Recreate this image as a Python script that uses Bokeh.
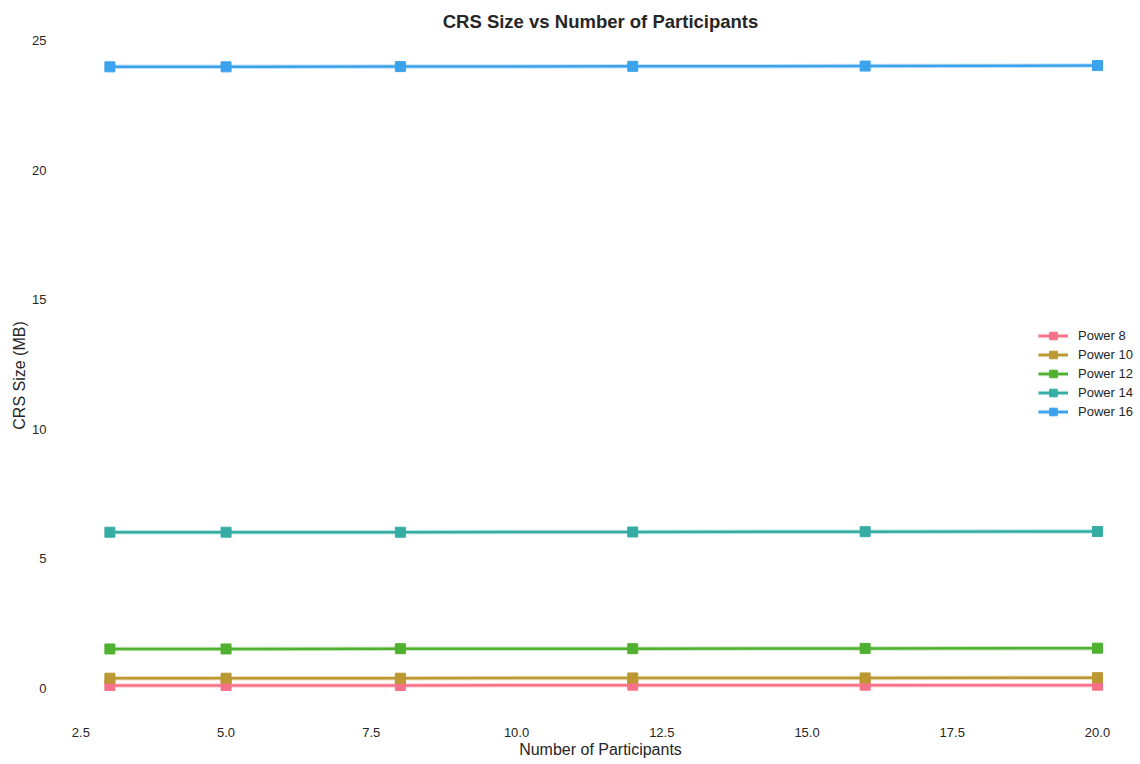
from bokeh.plotting import figure
from bokeh.models import Range1d, Legend, LegendItem, FixedTicker
from bokeh.embed import file_html
from bokeh.resources import INLINE

# Participants on the x axis
participants = [3, 5, 8, 12, 16, 20]

# CRS size (MB) per power setting
power_8 = [0.10, 0.10, 0.10, 0.11, 0.11, 0.11]
power_10 = [0.38, 0.38, 0.38, 0.39, 0.39, 0.40]
power_12 = [1.51, 1.51, 1.52, 1.52, 1.53, 1.54]
power_14 = [6.02, 6.02, 6.02, 6.03, 6.04, 6.05]
power_16 = [24.00, 24.00, 24.01, 24.02, 24.03, 24.05]

series_names = ["Power 8", "Power 10", "Power 12", "Power 14", "Power 16"]
series_values = [power_8, power_10, power_12, power_14, power_16]
colors = ["#f77189", "#bb9832", "#50b131", "#36ada4", "#3ba3ec"]

x_ticks = [2.5, 5.0, 7.5, 10.0, 12.5, 15.0, 17.5, 20.0]
y_ticks = [0, 5, 10, 15, 20, 25]

FONT = "Liberation Sans"
TEXT = "#262626"

p = figure(
    width=1140, height=764,
    output_backend="svg", toolbar_location=None,
    x_range=Range1d(2.15, 20.74), y_range=Range1d(-1.1, 25.25),
    min_border_left=60, min_border_right=0,
    min_border_top=34, min_border_bottom=48,
    title="CRS Size vs Number of Participants",
)
p.outline_line_color = None
p.background_fill_color = "white"
p.border_fill_color = "white"
p.xgrid.visible = False
p.ygrid.visible = False

p.title.align = "center"
p.title.text_font = FONT
p.title.text_font_size = "18.5px"
p.title.text_font_style = "bold"
p.title.text_color = TEXT
p.title.standoff = 5

for ax in (p.xaxis[0], p.yaxis[0]):
    ax.axis_line_color = None
    ax.major_tick_line_color = None
    ax.minor_tick_line_color = None
    ax.major_label_text_font = FONT
    ax.major_label_text_font_size = "13px"
    ax.major_label_text_color = TEXT
    ax.axis_label_text_font = FONT
    ax.axis_label_text_font_size = "16px"
    ax.axis_label_text_font_style = "normal"
    ax.axis_label_text_color = TEXT

p.xaxis.ticker = FixedTicker(ticks=x_ticks)
p.xaxis.major_label_overrides = {t: f"{t:.1f}" for t in x_ticks}
p.xaxis.axis_label = "Number of Participants"
p.xaxis.major_label_standoff = 5
p.xaxis.axis_label_standoff = 1

p.yaxis.ticker = FixedTicker(ticks=y_ticks)
p.yaxis.axis_label = "CRS Size (MB)"
p.yaxis.major_label_standoff = 8
p.yaxis.axis_label_standoff = 1

items = []
for name, vals, c in zip(series_names, series_values, colors):
    halo = p.line(participants, vals, line_color=c, line_width=4.5, line_alpha=0.3)
    ln = p.line(participants, vals, line_color=c, line_width=2.5)
    mk = p.scatter(participants, vals, marker="square", size=10,
                   fill_color=c, line_color=c)
    items.append(LegendItem(label=name, renderers=[halo, ln, mk]))

legend = Legend(items=items, location=(978, 295))
legend.border_line_color = None
legend.background_fill_alpha = 0
legend.padding = 0
legend.margin = 0
legend.spacing = 0
legend.glyph_width = 30
legend.glyph_height = 19
legend.label_height = 19
legend.label_standoff = 10
legend.label_text_font = FONT
legend.label_text_font_size = "13px"
legend.label_text_color = TEXT
p.add_layout(legend)

open("out.html", "w").write(file_html(p, INLINE))
